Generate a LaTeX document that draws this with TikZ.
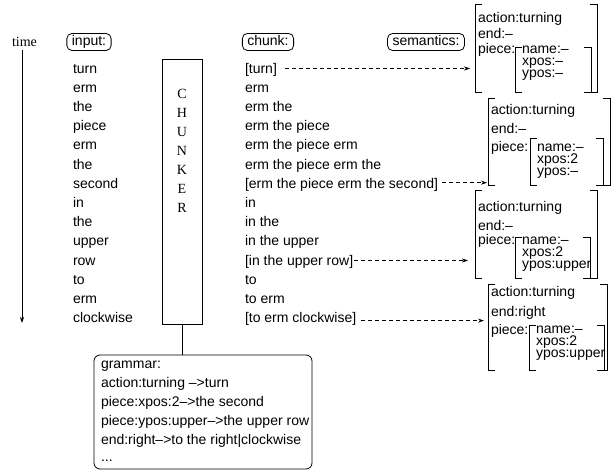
\documentclass[tikz,border=0pt]{standalone}
\usepackage{fontspec}
\setmainfont{Liberation Sans}
\newfontfamily\serifface{Liberation Serif}
\usetikzlibrary{arrows.meta,calc}
\newcommand\semBrackets[1]{%
  \draw[brk] ([xshift=7pt]#1.north west) -- (#1.north west) -- (#1.south west) -- ([xshift=7pt]#1.south west);
  \draw[brk] ([xshift=-7pt]#1.north east) -- (#1.north east) -- (#1.south east) -- ([xshift=-7pt]#1.south east);}
\begin{document}
\begin{tikzpicture}[x=1pt,y=-1pt,
  every node/.style={font=\fontsize{14}{17}\selectfont, inner sep=0pt, outer sep=0pt},
  word/.style={anchor=base west},
  tight/.style={anchor=base west, align=left, font=\fontsize{14}{12}\selectfont},
  serifword/.style={anchor=base, font=\serifface\fontsize{14}{17}\selectfont},
  lblbox/.style={draw, rounded corners=5pt, inner xsep=5pt, inner ysep=2pt, text height=10pt, text depth=3pt, line width=0.8pt},
  chunkbox/.style={draw, line width=0.8pt, minimum width=40pt, minimum height=265pt},
  gbox/.style={draw, rounded corners=6pt, line width=0.8pt, minimum width=218pt, minimum height=114pt},
  frame/.style={inner sep=0pt, outer sep=0pt},
  brk/.style={line width=0.8pt},
  link/.style={line width=0.8pt},
  dasharrow/.style={line width=0.6pt, dash pattern=on 4pt off 3pt, -{Stealth[length=6pt,width=4pt]}},
  timearrow/.style={line width=0.8pt, -{Stealth[length=6pt,width=4pt]}}
]
\useasboundingbox (0,0) rectangle (613,471);

% time axis
\node[serifword, inner sep=4pt] (timelbl) at (24.5,46) {time};
\coordinate (timeend) at (22,323);
\draw[timearrow] (timelbl.south -| timeend) -- (timeend);

% column headers
\node[lblbox] (inputlbl) at (89,42) {input:};
\node[lblbox] (chunklbl) at (268,42) {chunk:};
\node[lblbox] (semlbl) at (426,42) {semantics:};

% input words
\foreach \w [count=\i] in {{turn},{erm},{the},{piece},{erm},{the},{second},{in},{the},{upper},{row},{to},{erm},{clockwise}}
  \node[word] (in\i) at (73,{73+19.2*(\i-1)}) {\w};

% chunker
\node[chunkbox] (chunker) at (182,191.5) {};
\foreach \l [count=\i] in {C,H,U,N,K,E,R}
  \node[serifword] (ch\i) at (182,{98+19*(\i-1)}) {\l};

% chunks
\foreach \w [count=\i] in {{[turn]},{erm},{erm the},{erm the piece},{erm the piece erm},{erm the piece erm the},{[erm the piece erm the second]},{in},{in the},{in the upper},{[in the upper row]},{to},{to erm},{[to erm clockwise]}}
  \node[word] (c\i) at (245,{73+19.2*(\i-1)}) {\w};

% grammar
\node[gbox] (grammar) at (203,412) {};
\node[word] (g1) at (101,368) {grammar:};
\node[word] (g2) at (101,387) {action:turning –>turn};
\node[word] (g3) at (101,406) {piece:xpos:2–>the second};
\node[word] (g4) at (101,425) {piece:ypos:upper–>the upper row};
\node[word] (g5) at (101,444) {end:right–>to the right|clockwise};
\node[word] (g6) at (101,461) {...};
\draw[link] (chunker.south) -- (chunker.south |- grammar.north);

% semantics box 1
\node[frame, minimum width=122pt, minimum height=88pt] (sem1) at (536,48) {};
\node[frame, minimum width=76pt, minimum height=45pt] (sem1i) at (553,69.5) {};
\semBrackets{sem1}\semBrackets{sem1i}
\node[word] (s1a) at (478,23) {action:turning};
\node[word] (s1e) at (478,38) {end:–};
\node[word] (s1p) at (478,53) {piece:};
\node[tight] (s1n) at (522,77) {name:–\\xpos:–\\ypos:–};

% semantics box 2
\node[frame, minimum width=122pt, minimum height=87pt] (sem2) at (549,141.5) {};
\node[frame, minimum width=73pt, minimum height=47pt] (sem2i) at (566.5,161.5) {};
\semBrackets{sem2}\semBrackets{sem2i}
\node[word] (s2a) at (491,114) {action:turning};
\node[word] (s2e) at (491,133) {end:–};
\node[word] (s2p) at (491,151) {piece:};
\node[tight] (s2n) at (537,175) {name:–\\xpos:2\\ypos:–};

% semantics box 3
\node[frame, minimum width=122pt, minimum height=88pt] (sem3) at (536,234) {};
\node[frame, minimum width=75pt, minimum height=41pt] (sem3i) at (552.5,257.5) {};
\semBrackets{sem3}\semBrackets{sem3i}
\node[word] (s3a) at (478,211.7) {action:turning};
\node[word] (s3e) at (478,230) {end:–};
\node[word] (s3p) at (478,244) {piece:};
\node[tight] (s3n) at (522,268) {name:–\\xpos:2\\ypos:upper};

% semantics box 4
\node[frame, minimum width=119pt, minimum height=86pt] (sem4) at (547.5,327) {};
\node[frame, minimum width=75pt, minimum height=45pt] (sem4i) at (566.5,347.5) {};
\semBrackets{sem4}\semBrackets{sem4i}
\node[word] (s4a) at (491,296.7) {action:turning};
\node[word] (s4e) at (491,316.7) {end:right};
\node[word] (s4p) at (491,334) {piece:};
\node[tight] (s4n) at (536,357.7) {name:–\\xpos:2\\ypos:upper};

% chunk -> semantics arrows
\draw[dasharrow] ($(c1.base east)+(8,-4.5)$) -- ($(c1.base east -| sem1.west)+(-5,-4.5)$);
\draw[dasharrow] ($(c7.base east)+(4,-5.5)$) -- ($(c7.base east -| sem2.west)+(-1,-5.5)$);
\draw[dasharrow] ($(c11.base east)+(1,-4.5)$) -- ($(c11.base east -| sem3.west)+(-7,-4.5)$);
\draw[dasharrow] ($(c14.base east)+(5,-2)$) -- ($(c14.base east -| sem4.west)+(-4,-2)$);
\end{tikzpicture}
\end{document}
